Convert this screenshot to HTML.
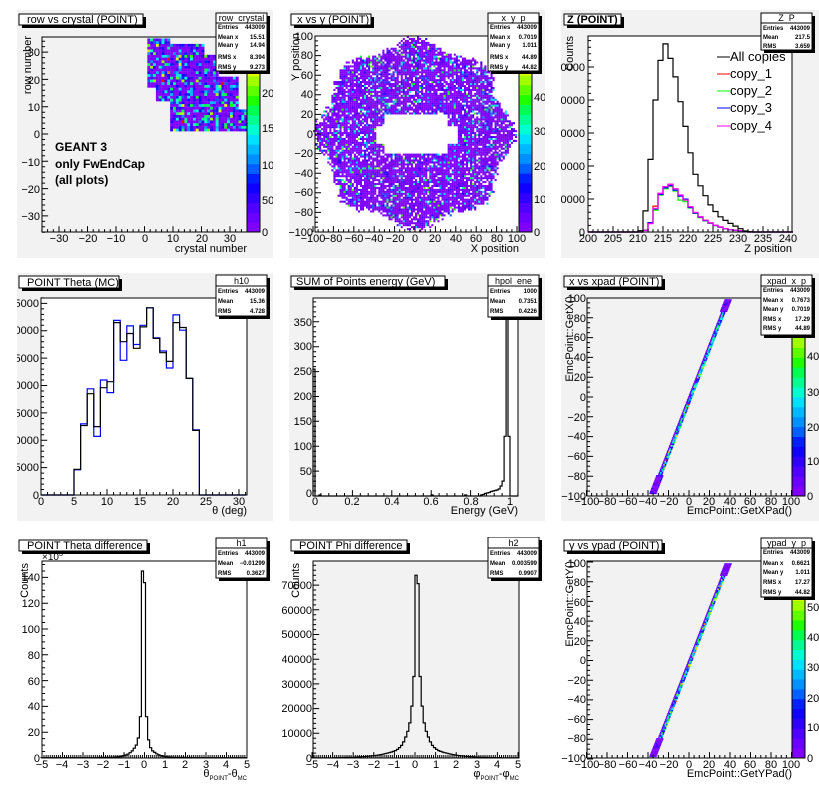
<!DOCTYPE html>
<html><head><meta charset="utf-8">
<style>
html,body{margin:0;padding:0;background:#fff;}
svg{display:block;font-family:"Liberation Sans",sans-serif;}
.t{font-size:11px;fill:#000;}
.tt{font-size:11px;fill:#000;}
.st{font-size:6px;font-weight:bold;fill:#000;}
.sh{font-size:9px;fill:#000;}
</style></head>
<body>
<svg id="root" width="819" height="801" viewBox="0 0 819 801" xmlns="http://www.w3.org/2000/svg">
<rect width="819" height="801" fill="#fff"/>

<!-- PAD 1 -->
<svg x="17" y="10" width="256" height="248" viewBox="17 10 256 248">
<rect x="17" y="10" width="256" height="248" fill="#f2f2f2"/>
<rect x="42" y="37" width="205" height="195" fill="#f2f2f2"/>
<g id="d1"></g>
<rect x="42" y="37" width="205" height="195" fill="none" stroke="#000"/>
<g id="k1"></g>
<g class="t" text-anchor="end">
<text x="40" y="56">30</text><text x="40" y="84">20</text><text x="40" y="111">10</text><text x="40" y="138">0</text>
<text x="40" y="166">−10</text><text x="40" y="193">−20</text><text x="40" y="220">−30</text></g>
<g class="t" text-anchor="middle">
<text x="59" y="242">−30</text><text x="88" y="242">−20</text><text x="116" y="242">−10</text><text x="145" y="242">0</text>
<text x="173" y="242">10</text><text x="202" y="242">20</text><text x="230" y="242">30</text></g>
<text class="tt" x="247" y="252" text-anchor="end">crystal number</text>
<text class="tt" transform="translate(31,36) rotate(-90)" text-anchor="end">row number</text>
<g font-size="12" font-weight="bold"><text x="55" y="151">GEANT 3</text><text x="55" y="168">only FwEndCap</text><text x="55" y="184">(all plots)</text></g>
<g id="pal1"></g>
<g class="t"><text x="262" y="236">0</text><text x="262" y="204">50</text><text x="262" y="169">100</text><text x="262" y="132">150</text><text x="262" y="97">200</text></g>
<rect x="219" y="16" width="51" height="58" fill="#000"/><rect x="216" y="13" width="51" height="58" fill="#fff" stroke="#000"/>
<text class="sh" x="241.5" y="21" text-anchor="middle">row_crystal</text><line x1="216" y1="23" x2="267" y2="23" stroke="#000"/>
<g class="st"><text x="218" y="29">Entries</text><text x="218" y="39">Mean x</text><text x="218" y="47">Mean y</text><text x="218" y="59">RMS x</text><text x="218" y="69">RMS y</text></g>
<g class="st" text-anchor="end"><text x="265" y="29">443009</text><text x="265" y="39">15.51</text><text x="265" y="47">14.94</text><text x="265" y="59">8.394</text><text x="265" y="69">9.273</text></g>
<rect x="22" y="17" width="124" height="11" fill="#000"/><rect x="19" y="14" width="124" height="11" fill="#fff" stroke="#000"/>
<text class="tt" x="27" y="23">row vs crystal (POINT)</text>
</svg>

<!-- PAD 2 -->
<svg x="289" y="10" width="256" height="248" viewBox="289 10 256 248">
<rect x="289" y="10" width="256" height="248" fill="#f2f2f2"/>
<rect x="315" y="36" width="204" height="196" fill="#fff"/>
<g id="d2"></g>
<rect x="315" y="36" width="204" height="196" fill="none" stroke="#000"/>
<g id="k2"></g>
<g class="t" text-anchor="end">
<text x="313" y="40">100</text><text x="313" y="59">80</text><text x="313" y="79">60</text><text x="313" y="98">40</text><text x="313" y="118">20</text><text x="313" y="138">0</text>
<text x="313" y="157">−20</text><text x="313" y="177">−40</text><text x="313" y="196">−60</text><text x="313" y="216">−80</text><text x="313" y="236">−100</text></g>
<g class="t" text-anchor="middle" font-size="10.5">
<text x="313" y="242">−100</text><text x="333" y="242">−80</text><text x="354" y="242">−60</text><text x="374" y="242">−40</text><text x="395" y="242">−20</text><text x="415" y="242">0</text>
<text x="435" y="242">20</text><text x="456" y="242">40</text><text x="476" y="242">60</text><text x="497" y="242">80</text><text x="517" y="242">100</text></g>
<text class="tt" x="519" y="252" text-anchor="end">X position</text>
<text class="tt" transform="translate(299,33) rotate(-90)" text-anchor="end">Y position</text>
<g id="pal2"></g>
<g class="t"><text x="534" y="236">0</text><text x="534" y="203">10</text><text x="534" y="170">20</text><text x="534" y="135">30</text><text x="534" y="101">40</text></g>
<rect x="491" y="16" width="51" height="58" fill="#000"/><rect x="488" y="13" width="51" height="58" fill="#fff" stroke="#000"/>
<text class="sh" x="513.5" y="21" text-anchor="middle">x_y_p</text><line x1="488" y1="23" x2="539" y2="23" stroke="#000"/>
<g class="st"><text x="490" y="29">Entries</text><text x="490" y="39">Mean x</text><text x="490" y="47">Mean y</text><text x="490" y="59">RMS x</text><text x="490" y="69">RMS y</text></g>
<g class="st" text-anchor="end"><text x="537" y="29">443009</text><text x="537" y="39">0.7019</text><text x="537" y="47">1.011</text><text x="537" y="59">44.89</text><text x="537" y="69">44.82</text></g>
<rect x="294" y="17" width="80" height="11" fill="#000"/><rect x="291" y="14" width="80" height="11" fill="#fff" stroke="#000"/>
<text class="tt" x="297" y="23">x vs y (POINT)</text>
</svg>

<!-- PAD 3 -->
<svg x="561" y="10" width="258" height="248" viewBox="561 10 258 248">
<rect x="561" y="10" width="258" height="248" fill="#f2f2f2"/>
<rect x="588" y="36" width="204" height="196" fill="#fff"/>
<g id="d3"></g>
<rect x="588" y="36" width="204" height="196" fill="none" stroke="#000"/>
<g id="k3"></g>
<g class="t" text-anchor="end">
<text x="585" y="236">0</text><text x="585" y="203">10000</text><text x="585" y="170">20000</text><text x="585" y="137">30000</text><text x="585" y="104">40000</text><text x="585" y="71">50000</text></g>
<g class="t" text-anchor="middle">
<text x="588" y="242">200</text><text x="613" y="242">205</text><text x="638" y="242">210</text><text x="663" y="242">215</text><text x="688" y="242">220</text>
<text x="713" y="242">225</text><text x="738" y="242">230</text><text x="763" y="242">235</text><text x="788" y="242">240</text></g>
<text class="tt" x="792" y="252" text-anchor="end">Z position</text>
<text class="tt" transform="translate(573,36) rotate(-90)" text-anchor="end">Counts</text>
<g font-size="13">
<line x1="717" y1="57" x2="730" y2="57" stroke="#000"/><text x="730" y="61">All copies</text>
<line x1="717" y1="74" x2="730" y2="74" stroke="#f00"/><text x="730" y="78">copy_1</text>
<line x1="717" y1="91" x2="730" y2="91" stroke="#0f0"/><text x="730" y="95">copy_2</text>
<line x1="717" y1="108" x2="730" y2="108" stroke="#00f"/><text x="730" y="112">copy_3</text>
<line x1="717" y1="126" x2="730" y2="126" stroke="#f0f"/><text x="730" y="130">copy_4</text></g>
<rect x="764" y="16" width="51" height="37" fill="#000"/><rect x="761" y="13" width="51" height="37" fill="#fff" stroke="#000"/>
<text class="sh" x="786.5" y="21" text-anchor="middle">Z_P</text><line x1="761" y1="23" x2="812" y2="23" stroke="#000"/>
<g class="st"><text x="763" y="30">Entries</text><text x="763" y="39">Mean</text><text x="763" y="48">RMS</text></g>
<g class="st" text-anchor="end"><text x="810" y="30">443009</text><text x="810" y="39">217.5</text><text x="810" y="48">3.659</text></g>
<rect x="567" y="17" width="57" height="11" fill="#000"/><rect x="564" y="14" width="57" height="11" fill="#fff" stroke="#000"/>
<text class="tt" x="567" y="23" font-weight="bold">Z (POINT)</text>
</svg>

<!-- PAD 4 -->
<svg x="17" y="273" width="256" height="248" viewBox="17 273 256 248">
<rect x="17" y="273" width="256" height="248" fill="#f2f2f2"/>
<rect x="41" y="298" width="206" height="197" fill="#fff"/>
<g id="d4"></g>
<rect x="41" y="298" width="206" height="197" fill="none" stroke="#000"/>
<g id="k4"></g>
<g class="t" text-anchor="end">
<text x="39" y="499">0</text><text x="39" y="471">5000</text><text x="39" y="444">10000</text><text x="39" y="417">15000</text><text x="39" y="389">20000</text><text x="39" y="362">25000</text><text x="39" y="334">30000</text><text x="39" y="307">35000</text></g>
<g class="t" text-anchor="middle">
<text x="41" y="505">0</text><text x="74" y="505">5</text><text x="107" y="505">10</text><text x="140" y="505">15</text><text x="173" y="505">20</text><text x="206" y="505">25</text><text x="239" y="505">30</text></g>
<text class="tt" x="247" y="514" text-anchor="end">θ (deg)</text>
<rect x="219" y="278" width="51" height="41" fill="#000"/><rect x="216" y="275" width="51" height="41" fill="#fff" stroke="#000"/>
<text class="sh" x="241.5" y="284" text-anchor="middle">h10</text><line x1="216" y1="286" x2="267" y2="286" stroke="#000"/>
<g class="st"><text x="218" y="293">Entries</text><text x="218" y="303">Mean</text><text x="218" y="313">RMS</text></g>
<g class="st" text-anchor="end"><text x="265" y="293">443009</text><text x="265" y="303">15.36</text><text x="265" y="313">4.728</text></g>
<rect x="22" y="279" width="100" height="12" fill="#000"/><rect x="19" y="276" width="100" height="12" fill="#fff" stroke="#000"/>
<text class="tt" x="27" y="286">POINT Theta (MC)</text>
</svg>

<!-- PAD 5 -->
<svg x="289" y="273" width="256" height="248" viewBox="289 273 256 248">
<rect x="289" y="273" width="256" height="248" fill="#f2f2f2"/>
<rect x="313" y="298" width="205" height="198" fill="#fff"/>
<g id="d5"></g>
<rect x="313" y="298" width="205" height="198" fill="none" stroke="#000"/>
<g id="k5"></g>
<g class="t" text-anchor="end">
<text x="312" y="497">0</text><text x="312" y="475">50</text><text x="312" y="450">100</text><text x="312" y="425">150</text><text x="312" y="400">200</text><text x="312" y="375">250</text><text x="312" y="350">300</text><text x="312" y="326">350</text></g>
<g class="t" text-anchor="middle">
<text x="315" y="505">0</text><text x="352" y="505">0.2</text><text x="392" y="505">0.4</text><text x="431" y="505">0.6</text><text x="471" y="505">0.8</text><text x="510" y="505">1</text></g>
<text class="tt" x="518" y="514" text-anchor="end">Energy (GeV)</text>
<rect x="491" y="278" width="51" height="42" fill="#000"/><rect x="488" y="275" width="51" height="42" fill="#fff" stroke="#000"/>
<text class="sh" x="513.5" y="284" text-anchor="middle">hpol_ene</text><line x1="488" y1="286" x2="539" y2="286" stroke="#000"/>
<g class="st"><text x="490" y="293">Entries</text><text x="490" y="303">Mean</text><text x="490" y="313">RMS</text></g>
<g class="st" text-anchor="end"><text x="537" y="293">1000</text><text x="537" y="303">0.7351</text><text x="537" y="313">0.4226</text></g>
<rect x="294" y="279" width="154" height="11" fill="#000"/><rect x="291" y="276" width="154" height="11" fill="#fff" stroke="#000"/>
<text class="tt" x="296" y="285">SUM of Points energy (GeV)</text>
</svg>

<!-- PAD 6 -->
<svg x="561" y="273" width="258" height="248" viewBox="561 273 258 248">
<rect x="561" y="273" width="258" height="248" fill="#f2f2f2"/>
<rect x="587" y="298" width="205" height="198" fill="#f2f2f2"/>
<g id="d6"></g>
<rect x="587" y="298" width="205" height="198" fill="none" stroke="#000"/>
<g id="k6"></g>
<g class="t" text-anchor="end">
<text x="586" y="302">100</text><text x="586" y="322">80</text><text x="586" y="341">60</text><text x="586" y="361">40</text><text x="586" y="381">20</text><text x="586" y="401">0</text>
<text x="586" y="421">−20</text><text x="586" y="440">−40</text><text x="586" y="460">−60</text><text x="586" y="480">−80</text><text x="586" y="500">−100</text></g>
<g class="t" text-anchor="middle" font-size="10.5">
<text x="587" y="505">−100</text><text x="607" y="505">−80</text><text x="628" y="505">−60</text><text x="648" y="505">−40</text><text x="669" y="505">−20</text><text x="689" y="505">0</text>
<text x="709" y="505">20</text><text x="730" y="505">40</text><text x="750" y="505">60</text><text x="771" y="505">80</text><text x="791" y="505">100</text></g>
<text class="tt" x="792" y="514" text-anchor="end">EmcPoint::GetXPad()</text>
<text class="tt" transform="translate(573,296) rotate(-90)" text-anchor="end">EmcPoint::GetX()</text>
<g id="pal6"></g>
<g class="t"><text x="807" y="500">0</text><text x="807" y="465">100</text><text x="807" y="431">200</text><text x="807" y="396">300</text><text x="807" y="360">400</text></g>
<rect x="764" y="278" width="51" height="60" fill="#000"/><rect x="761" y="275" width="51" height="60" fill="#fff" stroke="#000"/>
<text class="sh" x="786.5" y="284" text-anchor="middle">xpad_x_p</text><line x1="761" y1="286" x2="812" y2="286" stroke="#000"/>
<g class="st"><text x="763" y="292">Entries</text><text x="763" y="302">Mean x</text><text x="763" y="311">Mean y</text><text x="763" y="321">RMS x</text><text x="763" y="330">RMS y</text></g>
<g class="st" text-anchor="end"><text x="810" y="292">443009</text><text x="810" y="302">0.7673</text><text x="810" y="311">0.7019</text><text x="810" y="321">17.29</text><text x="810" y="330">44.89</text></g>
<rect x="567" y="279" width="98" height="11" fill="#000"/><rect x="564" y="276" width="98" height="11" fill="#fff" stroke="#000"/>
<text class="tt" x="569" y="285">x vs xpad (POINT)</text>
</svg>

<!-- PAD 7 -->
<svg x="17" y="537" width="256" height="248" viewBox="17 537 256 248">
<rect x="17" y="537" width="256" height="248" fill="#fff"/>
<g id="d7"></g>
<rect x="42" y="561" width="205" height="197" fill="none" stroke="#000"/>
<g id="k7"></g>
<text x="42" y="560" font-size="10">×10<tspan font-size="7" dy="-4">3</tspan></text>
<g class="t" text-anchor="end">
<text x="40" y="762">0</text><text x="40" y="736">20</text><text x="40" y="710">40</text><text x="40" y="685">60</text><text x="40" y="659">80</text><text x="40" y="633">100</text><text x="40" y="607">120</text><text x="40" y="581">140</text></g>
<g class="t" text-anchor="middle">
<text x="42" y="768">−5</text><text x="62" y="768">−4</text><text x="83" y="768">−3</text><text x="103" y="768">−2</text><text x="124" y="768">−1</text><text x="144" y="768">0</text>
<text x="165" y="768">1</text><text x="185" y="768">2</text><text x="206" y="768">3</text><text x="226" y="768">4</text><text x="247" y="768">5</text></g>
<text class="tt" x="247" y="777" text-anchor="end">θ<tspan font-size="6" dy="3">POINT</tspan><tspan dy="-3">-θ</tspan><tspan font-size="6" dy="3">MC</tspan></text>
<text class="tt" transform="translate(28,563) rotate(-90)" text-anchor="end">Counts</text>
<rect x="219" y="541" width="51" height="40" fill="#000"/><rect x="216" y="538" width="51" height="40" fill="#fff" stroke="#000"/>
<text class="sh" x="241.5" y="546" text-anchor="middle">h1</text><line x1="216" y1="548" x2="267" y2="548" stroke="#000"/>
<g class="st"><text x="218" y="555">Entries</text><text x="218" y="565">Mean</text><text x="218" y="575">RMS</text></g>
<g class="st" text-anchor="end"><text x="265" y="555">443009</text><text x="265" y="565">−0.01299</text><text x="265" y="575">0.3627</text></g>
<rect x="22" y="543" width="128" height="11" fill="#000"/><rect x="19" y="540" width="128" height="11" fill="#fff" stroke="#000"/>
<text class="tt" x="27" y="549">POINT Theta difference</text>
</svg>

<!-- PAD 8 -->
<svg x="282" y="537" width="263" height="248" viewBox="282 537 263 248">
<rect x="282" y="537" width="263" height="248" fill="#fff"/>
<rect x="313" y="561" width="206" height="197" fill="#f2f2f2"/>
<g id="d8"></g>
<rect x="313" y="561" width="206" height="197" fill="none" stroke="#000"/>
<g id="k8"></g>
<g class="t" text-anchor="end">
<text x="312" y="762">0</text><text x="312" y="737">10000</text><text x="312" y="712">20000</text><text x="312" y="688">30000</text><text x="312" y="663">40000</text><text x="312" y="638">50000</text><text x="312" y="614">60000</text><text x="312" y="589">70000</text></g>
<g class="t" text-anchor="middle">
<text x="312" y="768">−5</text><text x="333" y="768">−4</text><text x="353" y="768">−3</text><text x="374" y="768">−2</text><text x="394" y="768">−1</text><text x="415" y="768">0</text>
<text x="436" y="768">1</text><text x="456" y="768">2</text><text x="477" y="768">3</text><text x="497" y="768">4</text><text x="518" y="768">5</text></g>
<text class="tt" x="519" y="777" text-anchor="end">φ<tspan font-size="6" dy="3">POINT</tspan><tspan dy="-3">-φ</tspan><tspan font-size="6" dy="3">MC</tspan></text>
<text class="tt" transform="translate(299,563) rotate(-90)" text-anchor="end">Counts</text>
<rect x="491" y="540" width="51" height="41" fill="#000"/><rect x="488" y="537" width="51" height="41" fill="#fff" stroke="#000"/>
<text class="sh" x="513.5" y="546" text-anchor="middle">h2</text><line x1="488" y1="548" x2="539" y2="548" stroke="#000"/>
<g class="st"><text x="490" y="555">Entries</text><text x="490" y="565">Mean</text><text x="490" y="575">RMS</text></g>
<g class="st" text-anchor="end"><text x="537" y="555">443009</text><text x="537" y="565">0.003599</text><text x="537" y="575">0.9907</text></g>
<rect x="294" y="543" width="116" height="11" fill="#000"/><rect x="291" y="540" width="116" height="11" fill="#fff" stroke="#000"/>
<text class="tt" x="299" y="549">POINT Phi difference</text>
</svg>

<!-- PAD 9 -->
<svg x="561" y="537" width="258" height="248" viewBox="561 537 258 248">
<rect x="561" y="537" width="258" height="248" fill="#fff"/>
<rect x="587" y="561" width="205" height="197" fill="#f2f2f2"/>
<g id="d9"></g>
<rect x="587" y="561" width="205" height="197" fill="none" stroke="#000"/>
<g id="k9"></g>
<g class="t" text-anchor="end">
<text x="586" y="567">100</text><text x="586" y="586">80</text><text x="586" y="606">60</text><text x="586" y="625">40</text><text x="586" y="645">20</text><text x="586" y="664">0</text>
<text x="586" y="684">−20</text><text x="586" y="703">−40</text><text x="586" y="723">−60</text><text x="586" y="742">−80</text><text x="586" y="762">−100</text></g>
<g class="t" text-anchor="middle" font-size="10.5">
<text x="587" y="768">−100</text><text x="607" y="768">−80</text><text x="628" y="768">−60</text><text x="648" y="768">−40</text><text x="669" y="768">−20</text><text x="689" y="768">0</text>
<text x="709" y="768">20</text><text x="730" y="768">40</text><text x="750" y="768">60</text><text x="771" y="768">80</text><text x="791" y="768">100</text></g>
<text class="tt" x="792" y="777" text-anchor="end">EmcPoint::GetYPad()</text>
<text class="tt" transform="translate(573,561) rotate(-90)" text-anchor="end">EmcPoint::GetY()</text>
<g id="pal9"></g>
<g class="t"><text x="807" y="762">0</text><text x="807" y="731">100</text><text x="807" y="702">200</text><text x="807" y="671">300</text><text x="807" y="641">400</text><text x="807" y="611">500</text></g>
<rect x="764" y="541" width="51" height="59" fill="#000"/><rect x="761" y="538" width="51" height="59" fill="#fff" stroke="#000"/>
<text class="sh" x="786.5" y="546" text-anchor="middle">ypad_y_p</text><line x1="761" y1="548" x2="812" y2="548" stroke="#000"/>
<g class="st"><text x="763" y="554">Entries</text><text x="763" y="565">Mean x</text><text x="763" y="574">Mean y</text><text x="763" y="584">RMS x</text><text x="763" y="594">RMS y</text></g>
<g class="st" text-anchor="end"><text x="810" y="554">443009</text><text x="810" y="565">0.6621</text><text x="810" y="574">1.011</text><text x="810" y="584">17.27</text><text x="810" y="594">44.82</text></g>
<rect x="567" y="543" width="98" height="11" fill="#000"/><rect x="564" y="540" width="98" height="11" fill="#fff" stroke="#000"/>
<text class="tt" x="569" y="549">y vs ypad (POINT)</text>
</svg>
</svg>

<script>
(function(){
var NS='http://www.w3.org/2000/svg';
function E(p,tag,a){var e=document.createElementNS(NS,tag);for(var k in a)e.setAttribute(k,a[k]);p.appendChild(e);return e;}
function G(id){return document.getElementById(id);}
var s=12345;function R(){s^=s<<13;s^=s>>>17;s^=s<<5;return ((s>>>0)%100000)/100000;}
var PAL=['#7f00ff','#6a00ff','#5000ff','#3000ff','#1000ff','#0020ff','#0060ff','#0090ff','#00b8ff','#00e0ff','#00ffd0','#00ff90','#00ff50','#20ff00','#60ff00','#a0ff00','#e0ff00','#ffd000','#ff8000','#ff0000'];
function pal(id,x,y0,y1){var g=G(id),h=(y1-y0)/20;for(var i=0;i<20;i++)E(g,'rect',{x:x,y:(y1-(i+1)*h).toFixed(2),width:13,height:(h+0.4).toFixed(2),fill:PAL[i]});
 E(g,'rect',{x:x,y:y0,width:13,height:y1-y0,fill:'none',stroke:'#000'});}
pal('pal1',247,37,232);pal('pal2',519,36,232);pal('pal6',792,298,496);pal('pal9',792,561,758);
function ticks(id,fx0,fy0,fx1,fy1,xf,xmin,xmax,xs,xsub,yf,ymin,ymax,ys,ysub){
 var g=G(id),d='',L=(fy1-fy0)*0.03,Ly=(fx1-fx0)*0.03,st,k;
 st=xs/xsub;for(k=Math.ceil(xmin/st-1e-9);k<=Math.floor(xmax/st+1e-9);k++){var x=xf(k*st),l=(k%xsub==0)?L:L/2;d+='M'+x.toFixed(1)+' '+fy1+'v'+(-l).toFixed(1);}
 st=ys/ysub;for(k=Math.ceil(ymin/st-1e-9);k<=Math.floor(ymax/st+1e-9);k++){var y=yf(k*st),l2=(k%ysub==0)?Ly:Ly/2;d+='M'+fx0+' '+y.toFixed(1)+'h'+l2.toFixed(1);}
 E(g,'path',{d:d,stroke:'#000','stroke-width':1,fill:'none'});}
function hist(id,xf,yf,edges,vals,col,ytop){
 var d='M'+xf(edges[0]).toFixed(1)+' '+yf(0).toFixed(1);
 for(var i=0;i<vals.length;i++){var y=Math.max(yf(vals[i]),ytop);d+='L'+xf(edges[i]).toFixed(1)+' '+y.toFixed(1)+'L'+xf(edges[i+1]).toFixed(1)+' '+y.toFixed(1);}
 d+='L'+xf(edges[vals.length]).toFixed(1)+' '+yf(0).toFixed(1);
 E(G(id),'path',{d:d,stroke:col,'stroke-width':1.2,fill:'none'});}
function rc(){var r=R();if(r<0.5)return PAL[0];if(r<0.68)return PAL[1+Math.floor(R()*3)];if(r<0.84)return PAL[4+Math.floor(R()*5)];if(r<0.96)return PAL[9+Math.floor(R()*4)];if(r<0.99)return PAL[13+Math.floor(R()*4)];return PAL[17+Math.floor(R()*3)];}

// PAD1
var x1=function(v){return 144.5+v*2.85},y1=function(v){return 134-v*2.73};
ticks('k1',42,37,247,232,x1,-36,36,10,5,y1,-36,35.5,10,5);
var g1=G('d1');
function in1(c,r){
 if(c>=1&&c<9&&r>=17&&r<=34)return true;
 if(c>=4&&c<9&&r>=12&&r<17)return true;
 if(c>=9&&c<21&&r>=1&&r<=32)return true;
 if(c>=21&&c<26&&r>=1&&r<=28)return true;
 if(c>=26&&c<33&&r>=1&&r<=20)return true;
 if(c>=33&&c<36&&r>=1&&r<=8)return true;return false;}
for(var c=1;c<36;c++)for(var r=1;r<35;r++){if(!in1(c,r))continue;
 E(g1,'rect',{x:x1(c).toFixed(2),y:y1(r+1).toFixed(2),width:2.95,height:2.83,fill:rc()});}

// PAD2
var x2=function(v){return 415+v*1.02},y2=function(v){return 134-v*0.98};
ticks('k2',315,36,519,232,x2,-100,100,20,4,y2,-100,100,20,4);
var g2=G('d2');
for(var X=-100;X<100;X+=2)for(var Y=-100;Y<100;Y+=2){
 var cx=X+1,cy=Y+1,rr=Math.sqrt(cx*cx+cy*cy),ang=Math.atan2(cy,cx);
 var Rm=90+5*Math.cos(8*ang)+6*R();
 if(rr>Rm)continue;
 if((cx>-30&&cx<32&&cy>-20&&cy<20)||(cx>-39&&cx<43&&cy>-10&&cy<9))continue;
 if(R()<0.13)continue;
 var q=R(),col=q<0.75?PAL[0]:(q<0.88?PAL[1+Math.floor(R()*3)]:(q<0.96?PAL[6+Math.floor(R()*5)]:PAL[11+Math.floor(R()*4)]));
 E(g2,'rect',{x:x2(X).toFixed(2),y:y2(Y+2).toFixed(2),width:2.1,height:2.05,fill:col});}

// PAD3
var x3=function(v){return 588+(v-200)*5},y3=function(v){return 232-v*0.0033};
ticks('k3',588,36,792,232,x3,200,240.8,5,5,y3,0,59000,10000,5);
var ed=[];for(var z=200;z<=241;z++)ed.push(z);
var blk={210:400,211:6400,212:22000,213:40000,214:52000,215:57000,216:52600,217:47000,218:39500,219:32000,220:24000,221:17500,222:14000,223:11000,224:8200,225:6200,226:4600,227:3500,228:2600,229:1800,230:1000,231:300,232:100};
var cop={211:500,212:2800,213:7000,214:11500,215:13500,216:14200,217:12800,218:11000,219:9500,220:7500,221:5800,222:4500,223:3500,224:2700,225:2000,226:1500,227:1000,228:700,229:500,230:400,231:200};
function arr(o,f){var a=[];for(var z=200;z<241;z++)a.push((o[z]||0)*f(z));return a;}
hist('d3',x3,y3,ed,arr(cop,function(z){return z==213?1.12:(z==218?1.0:1.02)}),'#f00',36);
hist('d3',x3,y3,ed,arr(cop,function(z){return z==213?0.95:(z==218?0.88:0.97)}),'#0f0',36);
hist('d3',x3,y3,ed,arr(cop,function(z){return z==213?1.0:(z==219?1.05:0.99)}),'#00f',36);
hist('d3',x3,y3,ed,arr(cop,function(z){return z==212?0.9:1.02}),'#f0f',36);
hist('d3',x3,y3,ed,arr(blk,function(){return 1}),'#000',36);

// PAD4
var x4=function(v){return 41+v*6.6},y4=function(v){return 495-v*0.005474};
ticks('k4',41,298,247,495,x4,0,31.2,5,5,y4,0,36000,5000,5);
var e4=[];for(var i=0;i<=31;i++)e4.push(i);
var bk=[0,0,0,0,0,4700,12700,18500,12500,19600,20700,31500,28000,29500,26800,30700,34200,28600,26000,24400,31500,30600,21300,11800,0,0,0,0,0,0,0];
var bl=[0,0,0,0,0,4600,13000,19400,10700,21000,18700,31900,24600,30900,27500,31000,34200,28700,26300,23200,32900,30100,21300,11900,0,0,0,0,0,0,0];
hist('d4',x4,y4,e4,bl,'#00f',298);hist('d4',x4,y4,e4,bk,'#000',298);

// PAD5
var x5=function(v){return 313+v*197},y5=function(v){return 496-v*0.4977};
ticks('k5',313,298,518,496,x5,0,1.04,0.2,5,y5,0,396,50,5);
var e5=[],v5=[];for(var i=0;i<=104;i++)e5.push(i*0.01);for(i=0;i<104;i++)v5.push(0);
v5[0]=255;v5[3]=2;v5[60]=2;v5[77]=2;
for(i=85;i<96;i++)v5[i]=Math.round(2+ (i-85)*1.3);
v5[94]=14;v5[95]=20;v5[96]=30;v5[97]=120;v5[98]=900;v5[99]=120;
hist('d5',x5,y5,e5,v5,'#000',298);

// PAD6 / PAD9 diagonal
function band(id,xf,yf,seed){s=seed;var g=G(id);
 for(var Y=-98;Y<98;Y+=1.6){var xc=-35.5+(Y+98)/196*73.5;var end=(Y<-80||Y>85);var w=end?3.2:1.8;
  for(var dx=-w;dx<w;dx+=1.4){var col;var a=Math.abs(dx)/w;
   if(end)col=PAL[R()<0.7?0:1+Math.floor(R()*3)];
   else if(a>0.6)col=PAL[Math.floor(R()*3)];
   else{var q=R();col=q<0.3?PAL[3+Math.floor(R()*4)]:(q<0.75?PAL[7+Math.floor(R()*5)]:(q<0.95?PAL[12+Math.floor(R()*4)]:PAL[16+Math.floor(R()*4)]));}
   E(g,'rect',{x:xf(xc+dx).toFixed(2),y:yf(Y+1.6).toFixed(2),width:1.6,height:1.7,fill:col});}}}
var x6=function(v){return 689+v*1.025},y6=function(v){return 397-v*0.99};
ticks('k6',587,298,792,496,x6,-100,100,20,4,y6,-100,100,20,4);
band('d6',x6,y6,777);
var y9=function(v){return 660.5-v*0.985};
ticks('k9',587,561,792,758,x6,-100,100,20,4,y9,-100,100,20,4);
band('d9',x6,y9,999);

// PAD7
var x7=function(v){return 144.5+v*20.5},y7=function(v){return 758-v*1.29};
ticks('k7',42,561,247,758,x7,-5,5,1,10,y7,0,151,20,4);
var e7=[],v7=[];for(i=0;i<=100;i++)e7.push(-5.05+0.1*i);
var tab7={'-0.1':145,'0.0':136,'0.1':32,'-0.2':32,'0.2':14,'-0.3':15.5,'0.3':8,'-0.4':10,'0.4':5.5};
for(i=0;i<100;i++){var c7=-5+0.1*i;var key=c7.toFixed(1);if(key=='-0.0')key='0.0';var v;
 if(tab7[key]!==undefined)v=tab7[key];else if(c7<-0.4)v=10*Math.exp((c7+0.4)/0.3)+0.4;else v=5.5*Math.exp(-(c7-0.4)/0.3)+0.4;
 if(Math.abs(c7)>2.2)v=0.2;v7.push(v);}
hist('d7',x7,y7,e7,v7,'#000',561);

// PAD8
var x8=function(v){return 415+v*20.6},y8=function(v){return 758-v*0.00247};
ticks('k8',313,561,519,758,x8,-5,5,1,10,y8,0,79000,10000,5);
var e8=[],v8=[];for(i=0;i<=100;i++)e8.push(-5+0.1*i);
var T=[72000,33000,21000,14200,10800,8500,6500,5100,4200,3500,3000];
for(i=0;i<100;i++){var c8=-4.95+0.1*i;var n=Math.round(Math.abs(c8-0.1)/0.1-0.5);var v;
 if(n<=10)v=T[n];else v=3000*Math.exp(-(n-10)/9);
 if(n==0)v=(c8<0.1)?74000:70600;
 v8.push(v);}
hist('d8',x8,y8,e8,v8,'#000',561);
})();
</script>
</body></html>
